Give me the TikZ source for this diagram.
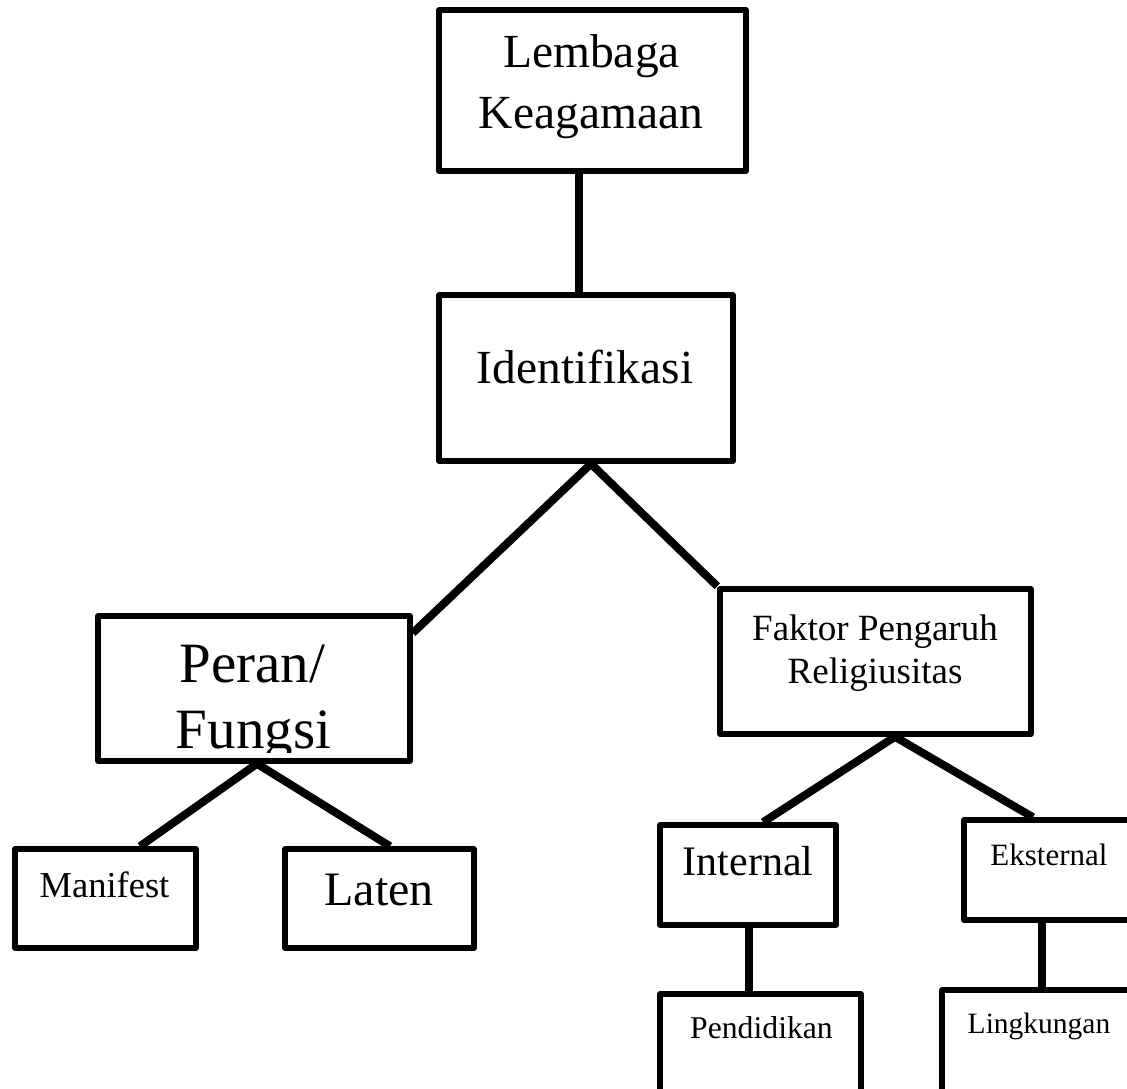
\documentclass[tikz,border=0pt]{standalone}
\usepackage{fontspec}
\setmainfont{Liberation Serif}
\tikzset{
  box/.style={draw, line width=5.5pt, line join=round, rectangle, inner sep=0pt, fill=none},
  conn/.style={line width=8pt},
  txt/.style={inner sep=0pt, anchor=base},
}
\newcommand{\fs}[1]{\fontsize{#1}{#1}\selectfont}
\begin{document}
\begin{tikzpicture}[x=1pt,y=1pt]
\useasboundingbox (0,0) rectangle (1127,-1088);
\fill[white] (0,0) rectangle (1127,-1088);
\clip (0,0) rectangle (1127,-1088);
% boxes
\node[box, minimum width=307pt, minimum height=161pt] (lem) at (592.5,-90.5) {};
\node[box, minimum width=294pt, minimum height=166pt] (ident) at (586,-378) {};
\node[box, minimum width=312pt, minimum height=145pt] (peran) at (254,-688.5) {};
\node[box, minimum width=311pt, minimum height=145pt] (faktor) at (875.5,-661.5) {};
\node[box, minimum width=181pt, minimum height=99pt] (manif) at (105.5,-898.5) {};
\node[box, minimum width=189pt, minimum height=99pt] (laten) at (379.5,-898.5) {};
\node[box, minimum width=176pt, minimum height=100pt] (intern) at (748,-875) {};
\node[box, minimum width=176pt, minimum height=100pt] (ekst) at (1052,-870) {};
\node[box, minimum width=201pt, minimum height=116pt] (pend) at (760.5,-1052) {};
\node[box, minimum width=198pt, minimum height=120pt] (lingk) at (1041,-1050) {};
% texts
\node[txt] (t1) at (591.5,-67) {\fs{47.5}Lembaga};
\node[txt] (t2) at (591,-128) {\fs{47.5}Keagamaan};
\node[txt] (t3) at (585,-383) {\fs{47.5}Identifikasi};
\node[txt] (t4) at (252.5,-682) {\fs{57}Peran/};
\begin{scope}
\clip (90,-600) rectangle (420,-752);
\node[txt] (t5) at (253.5,-748) {\fs{57}Fungsi};
\end{scope}
\node[txt] (t6) at (875,-640) {\fs{37}Faktor Pengaruh};
\node[txt] (t7) at (875,-683) {\fs{37}Religiusitas};
\node[txt] (t8) at (104.5,-897) {\fs{36.5}Manifest};
\node[txt] (t9) at (379,-905) {\fs{48}Laten};
\node[txt] (t10) at (748,-875) {\fs{42}Internal};
\node[txt] (t11) at (1049,-865) {\fs{31}Eksternal};
\node[txt] (t12) at (761.5,-1038) {\fs{31.7}Pendidikan};
\node[txt] (t13) at (1039,-1033) {\fs{29.5}Lingkungan};
% connectors
\draw[conn] ([xshift=-13.5pt]lem.south) -- ([xshift=-7pt]ident.north);
\draw[conn] ([xshift=5pt]ident.south) -- ([yshift=55.5pt]peran.east);
\draw[conn] ([xshift=5pt]ident.south) -- (faktor.north west);
\draw[conn] ([xshift=3pt]peran.south) -- ([xshift=34.5pt]manif.north);
\draw[conn] ([xshift=3pt]peran.south) -- ([xshift=10.5pt]laten.north);
\draw[conn] ([xshift=19.5pt]faktor.south) -- ([xshift=15pt]intern.north);
\draw[conn] ([xshift=19.5pt]faktor.south) -- ([xshift=-19pt]ekst.north);
\draw[conn] ([xshift=1pt]intern.south) -- ([xshift=-11.5pt]pend.north);
\draw[conn] ([xshift=-10pt]ekst.south) -- ([xshift=1pt]lingk.north);
\end{tikzpicture}
\end{document}
